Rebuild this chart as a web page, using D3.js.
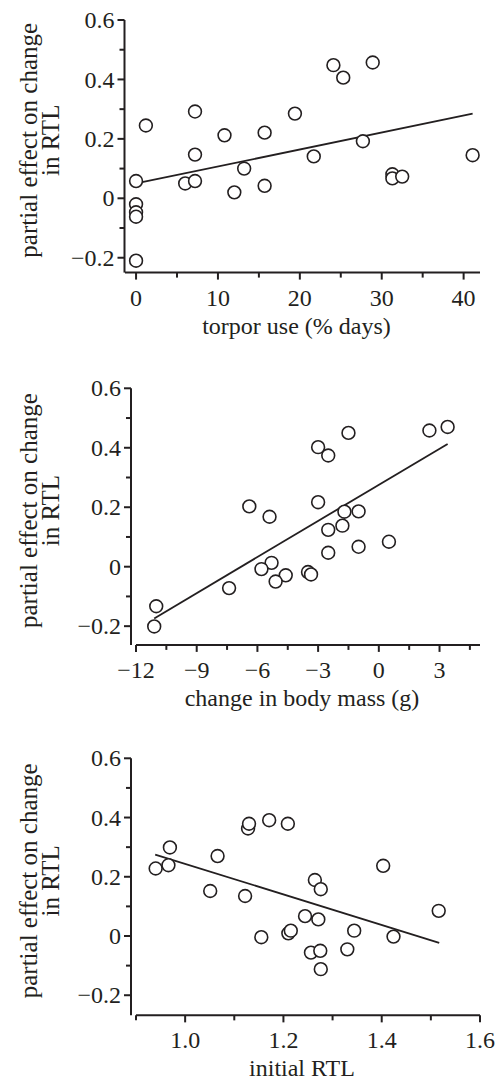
<!DOCTYPE html>
<html>
<head>
<meta charset="utf-8">
<script src="https://cdn.jsdelivr.net/npm/d3@7"></script>
<style>
  html, body { margin: 0; padding: 0; background: #fff; }
  svg { display: block; }
  text { font-family: "Liberation Serif", "Times New Roman", serif; fill: #231f20; }
</style>
</head>
<body>
<script>
// ---------- data ----------
const yTicksMajor = [-0.2, 0, 0.2, 0.4, 0.6];
const yTicksMinor = [-0.1, 0.1, 0.3, 0.5];
const yTitleLines = ["partial effect on change", "in RTL"];

// panel A: torpor use
const torporTicks = [0, 10, 20, 30, 40];
const torporMinor = [5, 15, 25, 35];
const torporX = [1.2, 7.2, 7.2, 10.8, 15.7, 19.4, 13.2, 21.7, 24.1, 25.3, 28.9, 27.7, 41.1, 31.3, 31.3, 32.5, 0, 6.0, 7.2, 12.0, 15.7, 0, 0, 0, 0];
const torporY = [0.245, 0.292, 0.147, 0.212, 0.221, 0.285, 0.100, 0.141, 0.448, 0.406, 0.457, 0.192, 0.145, 0.081, 0.067, 0.073, 0.058, 0.050, 0.058, 0.020, 0.042, -0.020, -0.047, -0.062, -0.210];
const torporFit = [[0, 0.050], [41.1, 0.285]];

// panel B: change in body mass
const massTicks = [-12, -9, -6, -3, 0, 3];
const massMinor = [-10.5, -7.5, -4.5, -1.5, 1.5, 4.5];
const massX = [-3.0, -2.5, -1.5, 2.5, 3.4, -6.4, -5.4, -3.0, -1.7, -1.0, -2.5, -1.8, -1.0, 0.5, -2.5, -5.3, -5.8, -4.6, -5.1, -3.5, -3.35, -7.4, -11.0, -11.1];
const massY = [0.402, 0.374, 0.450, 0.458, 0.470, 0.203, 0.168, 0.217, 0.185, 0.186, 0.124, 0.138, 0.067, 0.084, 0.047, 0.013, -0.008, -0.029, -0.050, -0.018, -0.026, -0.072, -0.133, -0.201];
const massFit = [[-11.1, -0.174], [3.4, 0.413]];

// panel C: initial RTL
const rtlTicks = [1.0, 1.2, 1.4, 1.6];
const rtlMinor = [0.9, 1.1, 1.3, 1.5];
const rtlX = [0.940, 0.966, 0.969, 1.066, 1.051, 1.128, 1.130, 1.171, 1.209, 1.122, 1.264, 1.276, 1.403, 1.516, 1.244, 1.271, 1.344, 1.424, 1.155, 1.210, 1.215, 1.256, 1.275, 1.330, 1.276];
const rtlY = [0.228, 0.239, 0.299, 0.270, 0.152, 0.363, 0.379, 0.391, 0.379, 0.135, 0.189, 0.158, 0.237, 0.085, 0.067, 0.056, 0.018, -0.002, -0.004, 0.009, 0.018, -0.056, -0.050, -0.045, -0.112];
const rtlFit = [[0.939, 0.275], [1.517, -0.023]];

// ---------- drawing ----------
const W = 496, H = 1084;
const ink = "#231f20";
const svg = d3.select("body").append("svg").attr("width", W).attr("height", H);

const fmtY = v => v === 0 ? "0" : d3.format(".1f")(v).replace("-", "\u2212");
const fmtX = v => String(v).replace("-", "\u2212");

const panels = [
  { xs: torporX, ys: torporY, fit: torporFit, ticks: torporTicks, minor: torporMinor,
    xDom: [-1.35, 42], xRange: [125, 480], yAxisX: 124.5, yTop: 20, yZero: 198.3, yBottom: -0.25,
    fmt: v => fmtX(v), title: "torpor use (% days)" },
  { xs: massX, ys: massY, fit: massFit, ticks: massTicks, minor: massMinor,
    xDom: [-12, 5], xRange: [136, 480], yAxisX: 131, yTop: 388.3, yZero: 566.7, yBottom: -0.263,
    fmt: v => fmtX(v), title: "change in body mass (g)" },
  { xs: rtlX, ys: rtlY, fit: rtlFit, ticks: rtlTicks, minor: rtlMinor,
    xDom: [0.9, 1.6], xRange: [136, 480], yAxisX: 131, yTop: 758.3, yZero: 936, yBottom: -0.268,
    fmt: v => d3.format(".1f")(v), title: "initial RTL" }
];

const fs = 24;      // tick labels and x titles
const fsY = 25;     // y title

panels.forEach(p => {
  const g = svg.append("g");
  const x = d3.scaleLinear().domain(p.xDom).range(p.xRange);
  // y: 0.6 at yTop, 0 at yZero
  const yBotPx = p.yZero + (p.yZero - p.yTop) / 0.6 * (-p.yBottom);
  const y = d3.scaleLinear().domain([p.yBottom, 0.6]).range([yBotPx, p.yTop]);

  // y axis
  const yAxisG = g.append("g").attr("transform", `translate(${p.yAxisX},0)`);
  yAxisG.append("line").attr("y1", y(0.6)).attr("y2", y(p.yBottom))
    .attr("stroke", ink).attr("stroke-width", 2);
  yAxisG.selectAll("line.maj").data(yTicksMajor).enter().append("line")
    .attr("x1", -7).attr("x2", 0).attr("y1", d => y(d)).attr("y2", d => y(d))
    .attr("stroke", ink).attr("stroke-width", 2);
  yAxisG.selectAll("line.min").data(yTicksMinor).enter().append("line")
    .attr("x1", -5).attr("x2", 0).attr("y1", d => y(d)).attr("y2", d => y(d))
    .attr("stroke", ink).attr("stroke-width", 2);
  yAxisG.selectAll("text").data(yTicksMajor).enter().append("text")
    .attr("x", -10).attr("y", d => y(d)).attr("dy", "0.34em")
    .attr("text-anchor", "end").attr("font-size", fs).text(fmtY);

  // x axis
  const axY = y(p.yBottom);
  const xAxisG = g.append("g").attr("transform", `translate(0,${axY})`);
  xAxisG.append("line").attr("x1", p.xRange[0]).attr("x2", p.xRange[1])
    .attr("stroke", ink).attr("stroke-width", 2);
  xAxisG.selectAll("line.maj").data(p.ticks).enter().append("line")
    .attr("x1", d => x(d)).attr("x2", d => x(d)).attr("y1", 0).attr("y2", 7)
    .attr("stroke", ink).attr("stroke-width", 2);
  xAxisG.selectAll("line.min").data(p.minor).enter().append("line")
    .attr("x1", d => x(d)).attr("x2", d => x(d)).attr("y1", 0).attr("y2", 5)
    .attr("stroke", ink).attr("stroke-width", 2);
  xAxisG.selectAll("text").data(p.ticks).enter().append("text")
    .attr("x", d => x(d)).attr("y", 33)
    .attr("text-anchor", "middle").attr("font-size", fs).text(p.fmt);
  xAxisG.append("text").attr("x", (p.xRange[0] + p.xRange[1]) / 2 - 6).attr("y", 61)
    .attr("text-anchor", "middle").attr("font-size", fs).text(p.title);

  // y title
  const cy = (y(0.6) + y(p.yBottom)) / 2 - 6;
  yTitleLines.forEach((t, i) => {
    g.append("text").attr("transform", `translate(${37 + i * 22},${cy}) rotate(-90)`)
      .attr("text-anchor", "middle").attr("font-size", fsY).text(t);
  });

  // fit line
  g.append("line")
    .attr("x1", x(p.fit[0][0])).attr("y1", y(p.fit[0][1]))
    .attr("x2", x(p.fit[1][0])).attr("y2", y(p.fit[1][1]))
    .attr("stroke", ink).attr("stroke-width", 1.8);

  // points
  const pts = p.xs.map((v, i) => [v, p.ys[i]]);
  g.selectAll("circle").data(pts).enter().append("circle")
    .attr("cx", d => x(d[0])).attr("cy", d => y(d[1])).attr("r", 6.4)
    .attr("fill", "#fff").attr("stroke", ink).attr("stroke-width", 1.6);
});
</script>
</body>
</html>
